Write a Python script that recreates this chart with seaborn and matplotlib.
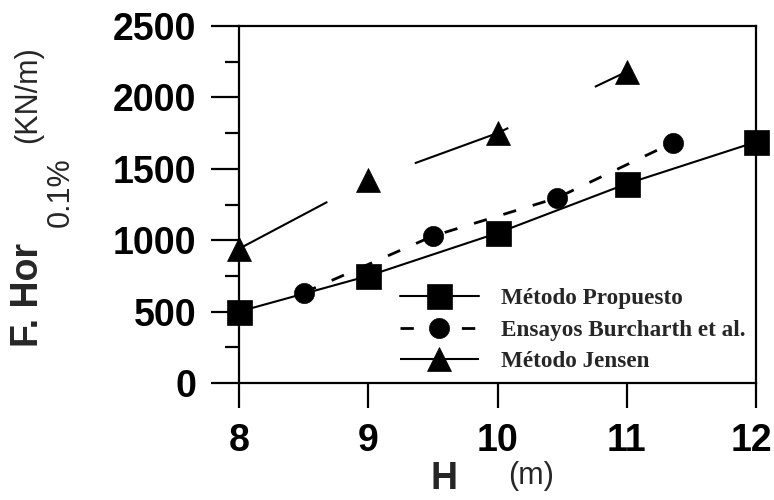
import matplotlib
matplotlib.use("Agg")
import matplotlib.pyplot as plt
import matplotlib.transforms as mtransforms
from matplotlib.ticker import MultipleLocator
import seaborn as sns

# valores
x_propuesto = [8, 9, 10, 11, 12]
f_propuesto = [500, 750, 1050, 1395, 1688]
x_burcharth = [8.5, 9.5, 10.46, 11.36]
f_burcharth = [632, 1029, 1296, 1684]
x_jensen = [8, 9, 10, 11]
f_jensen = [940, 1420, 1750, 2180]
series_labels = ["Método Propuesto", "Ensayos Burcharth et al.", "Método Jensen"]
x_ticks = [8, 9, 10, 11, 12]
y_ticks = [0, 500, 1000, 1500, 2000, 2500]

sns.set_style("ticks", {"axes.edgecolor": "black", "xtick.color": "black",
                        "ytick.color": "black"})
plt.rcParams["font.family"] = ["Liberation Sans", "DejaVu Sans"]
plt.rcParams["lines.scale_dashes"] = False

fig = plt.figure(figsize=(7.74, 5.0), dpi=100)
ax = fig.add_axes([239 / 774, 1 - 383 / 500, 517 / 774, 357 / 500])

common = dict(ax=ax, color="black", errorbar=None, clip_on=False, zorder=3,
              markeredgecolor="black", markeredgewidth=0.5)
sns.lineplot(x=x_propuesto, y=f_propuesto, marker="s", markersize=18,
             linewidth=1.5, linestyle="-", **common)
sns.lineplot(x=x_burcharth, y=f_burcharth, marker="o", markersize=14.5,
             linewidth=2.0, linestyle=(0, (9.6, 12.5)), **common)
sns.lineplot(x=x_jensen, y=f_jensen, marker="^", markersize=17,
             linewidth=1.5, linestyle=(0, (72, 69)), **common)

ax.set_xlim(8, 12)
ax.set_ylim(0, 2500)
ax.set_xticks(x_ticks)
ax.set_yticks(y_ticks)
ax.yaxis.set_minor_locator(MultipleLocator(250))
ax.set_xlabel("")
ax.set_ylabel("")

for s in ax.spines.values():
    s.set_linewidth(1.6)
ax.tick_params(axis="y", which="major", length=20, width=1.6, pad=11, labelsize=27)
ax.tick_params(axis="y", which="minor", length=10, width=1.6)
ax.tick_params(axis="x", which="major", length=18, width=1.6, pad=11, labelsize=27)
for lab in ax.get_xticklabels() + ax.get_yticklabels():
    lab.set_fontweight("bold")
# el "12" pegado al borde derecho
last = ax.get_xticklabels()[-1]
last.set_transform(last.get_transform() +
                   mtransforms.ScaledTranslation(-5 / 100, 0, fig.dpi_scale_trans))

ax.legend(handles=ax.lines[:3], labels=series_labels, loc="center left",
          bbox_to_anchor=((400 - 239) / 517, (383 - 330) / 357),
          frameon=False, borderpad=0, borderaxespad=0,
          handlelength=3.4, handletextpad=0.95, labelspacing=0.45,
          prop=dict(family="Liberation Serif", weight="bold", size=16.7))

# titulos de ejes
fig.text(28 / 774, 1 - 295 / 500, "F. Hor", rotation=90, ha="center", va="center",
         fontsize=27, fontweight="bold")
fig.text(61 / 774, 1 - 192 / 500, "0.1%", rotation=90, ha="center", va="center",
         fontsize=22)
fig.text(28 / 774, 1 - 95 / 500, "(KN/m)", rotation=90, ha="center", va="center",
         fontsize=22)
fig.text(444 / 774, 1 - 489 / 500, "H", ha="center", va="baseline",
         fontsize=27, fontweight="bold")
fig.text(531 / 774, 1 - 461 / 500, "(m)", ha="center", va="top", fontsize=22)

fig.savefig("out.png", dpi=100)
